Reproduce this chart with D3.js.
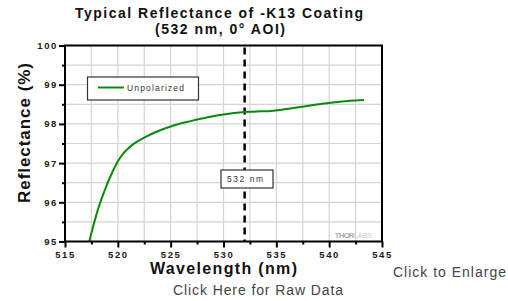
<!DOCTYPE html>
<html>
<head>
<meta charset="utf-8">
<script src="https://cdn.jsdelivr.net/npm/d3@7"></script>
<style>
  body { margin: 0; background: #fff; }
  svg { display: block; font-family: "Liberation Sans", Arial, sans-serif; }
</style>
</head>
<body>
<div id="chart"></div>
<script>
// values
var wavelength = [517.3, 517.7, 518.1, 518.5, 519.0, 519.5, 520.0, 520.5, 521.0, 521.5,
                  522.5, 523.5, 524.5, 525.5, 526.5, 527.5, 528.5, 529.5, 530.5, 531.5,
                  532.5, 533.5, 534.5, 535.5, 536.5, 537.5, 538.5, 539.5, 540.5, 541.5,
                  542.5, 543.3];
var reflectance = [95.0, 95.42, 95.8, 96.12, 96.47, 96.78, 97.04, 97.24, 97.38, 97.49,
                   97.65, 97.78, 97.89, 97.98, 98.05, 98.11, 98.17, 98.22, 98.26, 98.29,
                   98.31, 98.32, 98.33, 98.36, 98.4, 98.44, 98.48, 98.52, 98.55, 98.58,
                   98.6, 98.61];
var xTicks = [515, 520, 525, 530, 535, 540, 545];
var yTicks = [95, 96, 97, 98, 99, 100];
var markWavelength = 532;

var width = 508, height = 301;
var plot = {left: 65, right: 382, top: 45.5, bottom: 241.5};

var svg = d3.select("#chart").append("svg")
    .attr("width", width)
    .attr("height", height)

var x = d3.scaleLinear().domain([515, 545]).range([plot.left, plot.right]);
var y = d3.scaleLinear().domain([95, 100]).range([plot.bottom, plot.top]);

// grid, every 2.5 nm and every 0.5 %
var xGrid = d3.range(515, 545.01, 2.5);
var yGrid = d3.range(95, 100.01, 0.5);

svg.append("g").selectAll("line")
    .data(xGrid)
    .enter().append("line")
    .attr("x1", d => x(d)).attr("x2", d => x(d))
    .attr("y1", plot.top).attr("y2", plot.bottom)
    .attr("stroke", "#d4d4d4")
    .attr("stroke-width", 1.2)

svg.append("g").selectAll("line")
    .data(yGrid)
    .enter().append("line")
    .attr("x1", plot.left).attr("x2", plot.right)
    .attr("y1", d => y(d)).attr("y2", d => y(d))
    .attr("stroke", "#d4d4d4")
    .attr("stroke-width", 1.2)

// THORLABS watermark
var wm = svg.append("text")
    .attr("x", 335).attr("y", 238)
    .attr("font-size", 7.5).attr("font-weight", "bold")
    .attr("textLength", 37)
wm.append("tspan").attr("fill", "#a8a8a8").text("THOR")
wm.append("tspan").attr("fill", "#dadada").text("LABS")

// dashed 532 nm marker
svg.append("line")
    .attr("x1", x(markWavelength)).attr("x2", x(markWavelength))
    .attr("y1", plot.top + 2).attr("y2", plot.bottom)
    .attr("stroke", "#000")
    .attr("stroke-width", 2.5)
    .attr("stroke-dasharray", "7,5")

// curve
var line = d3.line()
    .x((d, i) => x(wavelength[i]))
    .y(d => y(d))
    .curve(d3.curveMonotoneX)

svg.append("path")
    .datum(reflectance)
    .attr("d", line)
    .attr("fill", "none")
    .attr("stroke", "#0a8a0a")
    .attr("stroke-width", 2)

// frame
svg.append("rect")
    .attr("x", plot.left).attr("y", plot.top)
    .attr("width", plot.right - plot.left)
    .attr("height", plot.bottom - plot.top)
    .attr("fill", "none")
    .attr("stroke", "#000")
    .attr("stroke-width", 2)

// axes
svg.append("g")
    .attr("transform", "translate(0," + plot.bottom + ")")
    .call(d3.axisBottom(x).tickValues(xTicks).tickSize(6).tickPadding(4).tickFormat(d3.format("d")))
svg.append("g")
    .attr("transform", "translate(0," + plot.bottom + ")")
    .call(d3.axisBottom(x).tickValues(d3.range(517.5, 545, 5)).tickSize(3).tickFormat(""))
svg.append("g")
    .attr("transform", "translate(" + plot.left + ",0)")
    .call(d3.axisLeft(y).tickValues(yTicks).tickSize(6).tickPadding(1).tickFormat(d3.format("d")))
svg.append("g")
    .attr("transform", "translate(" + plot.left + ",0)")
    .call(d3.axisLeft(y).tickValues(d3.range(95.5, 100, 1)).tickSize(3).tickFormat(""))

svg.selectAll(".domain").remove()
svg.selectAll(".tick line").attr("stroke", "#000").attr("stroke-width", 2)
svg.selectAll(".tick text")
    .attr("font-family", "Liberation Sans, Arial, sans-serif")
    .attr("font-size", 9.5)
    .attr("font-weight", "bold")
    .attr("letter-spacing", 1.6)
    .attr("fill", "#1a1a1a")

// legend
svg.append("rect")
    .attr("x", 87.5).attr("y", 77)
    .attr("width", 111).attr("height", 23)
    .attr("fill", "#fff")
    .attr("stroke", "#333")
    .attr("stroke-width", 1.2)
svg.append("line")
    .attr("x1", 98).attr("x2", 124)
    .attr("y1", 87.5).attr("y2", 87.5)
    .attr("stroke", "#0a8a0a")
    .attr("stroke-width", 2)
svg.append("text")
    .attr("x", 127).attr("y", 91)
    .attr("font-size", 8.5)
    .attr("fill", "#333")
    .attr("textLength", 57)
    .text("Unpolarized")

// 532 nm label box
svg.append("rect")
    .attr("x", 221).attr("y", 170)
    .attr("width", 52).attr("height", 18)
    .attr("fill", "#fff")
    .attr("stroke", "#333")
    .attr("stroke-width", 1.2)
svg.append("text")
    .attr("x", 227).attr("y", 182)
    .attr("font-size", 8.5)
    .attr("fill", "#333")
    .attr("textLength", 36)
    .text("532 nm")

// titles
svg.append("text")
    .attr("x", 75).attr("y", 18)
    .attr("font-size", 14).attr("font-weight", "bold")
    .attr("fill", "#111")
    .attr("textLength", 288)
    .text("Typical Reflectance of -K13 Coating")
svg.append("text")
    .attr("x", 155).attr("y", 34)
    .attr("font-size", 14).attr("font-weight", "bold")
    .attr("fill", "#111")
    .attr("textLength", 130)
    .text("(532 nm, 0° AOI)")

svg.append("text")
    .attr("x", 150).attr("y", 274)
    .attr("font-size", 16).attr("font-weight", "bold")
    .attr("fill", "#111")
    .attr("textLength", 147)
    .text("Wavelength (nm)")

svg.append("text")
    .attr("transform", "translate(30,203) rotate(-90)")
    .attr("font-size", 17).attr("font-weight", "bold")
    .attr("fill", "#111")
    .attr("textLength", 140)
    .text("Reflectance (%)")

// page links
svg.append("text")
    .attr("x", 393).attr("y", 277)
    .attr("font-size", 14)
    .attr("fill", "#444")
    .attr("textLength", 113)
    .text("Click to Enlarge")
svg.append("text")
    .attr("x", 173).attr("y", 295)
    .attr("font-size", 14)
    .attr("fill", "#444")
    .attr("textLength", 170)
    .text("Click Here for Raw Data")
</script>
</body>
</html>
